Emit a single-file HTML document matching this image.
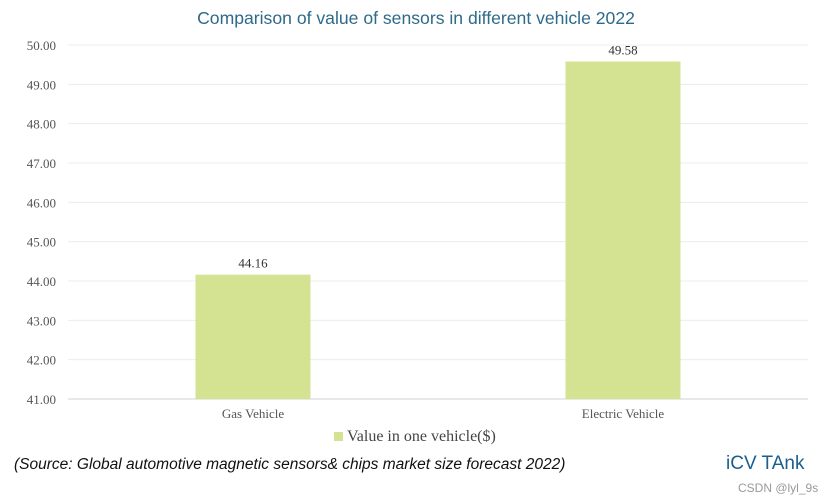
<!DOCTYPE html>
<html><head><meta charset="utf-8"><style>
body{margin:0;background:#fff;width:832px;height:502px;overflow:hidden;position:relative;font-family:"Liberation Serif",serif}
.t{position:absolute;white-space:nowrap}
svg text{font-family:"Liberation Serif",serif}
</style></head><body>
<div class="t" style="left:0;width:832px;text-align:center;top:8px;font-family:'Liberation Sans',sans-serif;font-size:17.6px;color:#2e6a8a">Comparison of value of sensors in different vehicle 2022</div>
<svg id="c" width="832" height="460" style="position:absolute;left:0;top:0"></svg>
<div class="t" style="left:334px;top:428px;font-size:16px;color:#444"><span style="display:inline-block;width:9px;height:9px;background:#d3e392;margin-right:4px"></span>Value in one vehicle($)</div>
<div class="t" style="left:14px;top:456px;font-family:'Liberation Sans',sans-serif;font-style:italic;font-size:15.5px;color:#111">(Source: Global automotive magnetic sensors&amp; chips market size forecast 2022)</div>
<div class="t" style="left:726px;top:453px;font-family:'Liberation Sans',sans-serif;font-size:19px;color:#1a5f8f">iCV TAnk</div>
<div class="t" style="left:738px;top:481px;font-family:'Liberation Sans',sans-serif;font-size:12px;color:#999">CSDN @lyl_9s</div>
<script>
const categories=["Gas Vehicle","Electric Vehicle"];
const values=[44.16,49.58];
const ticks=[41,42,43,44,45,46,47,48,49,50];
const ns="http://www.w3.org/2000/svg",svg=document.getElementById('c');
const x0=68,x1=808,yMin=41,yMax=50,py0=399,py1=45;
const y=v=>py0-(v-yMin)/(yMax-yMin)*(py0-py1);
const bw=(x1-x0)/categories.length;
function el(t,a,txt){const e=document.createElementNS(ns,t);for(const k in a)e.setAttribute(k,a[k]);if(txt!=null)e.textContent=txt;svg.appendChild(e);return e;}
ticks.forEach(v=>{
const g=el('line',{x1:x0,x2:x1,y1:y(v),y2:y(v),stroke:v==yMin?'#d0d0d0':'#ececec','stroke-width':1});


const l=el('text',{x:56,y:y(v)+5,'text-anchor':'end','font-size':13,fill:'#555'},v.toFixed(2));


});
categories.forEach((c,i)=>{
const cx=x0+bw*(i+0.5),w=115;
const r=el('rect',{x:cx-w/2,y:y(values[i]),width:w,height:y(yMin)-y(values[i]),fill:'#d3e392'});


const t=el('text',{x:cx,y:y(values[i])-7,'text-anchor':'middle','font-size':13,fill:'#333'},values[i].toFixed(2));


const cl=el('text',{x:cx,y:418,'text-anchor':'middle','font-size':13,fill:'#555'},c);


});
</script>
</body></html>
